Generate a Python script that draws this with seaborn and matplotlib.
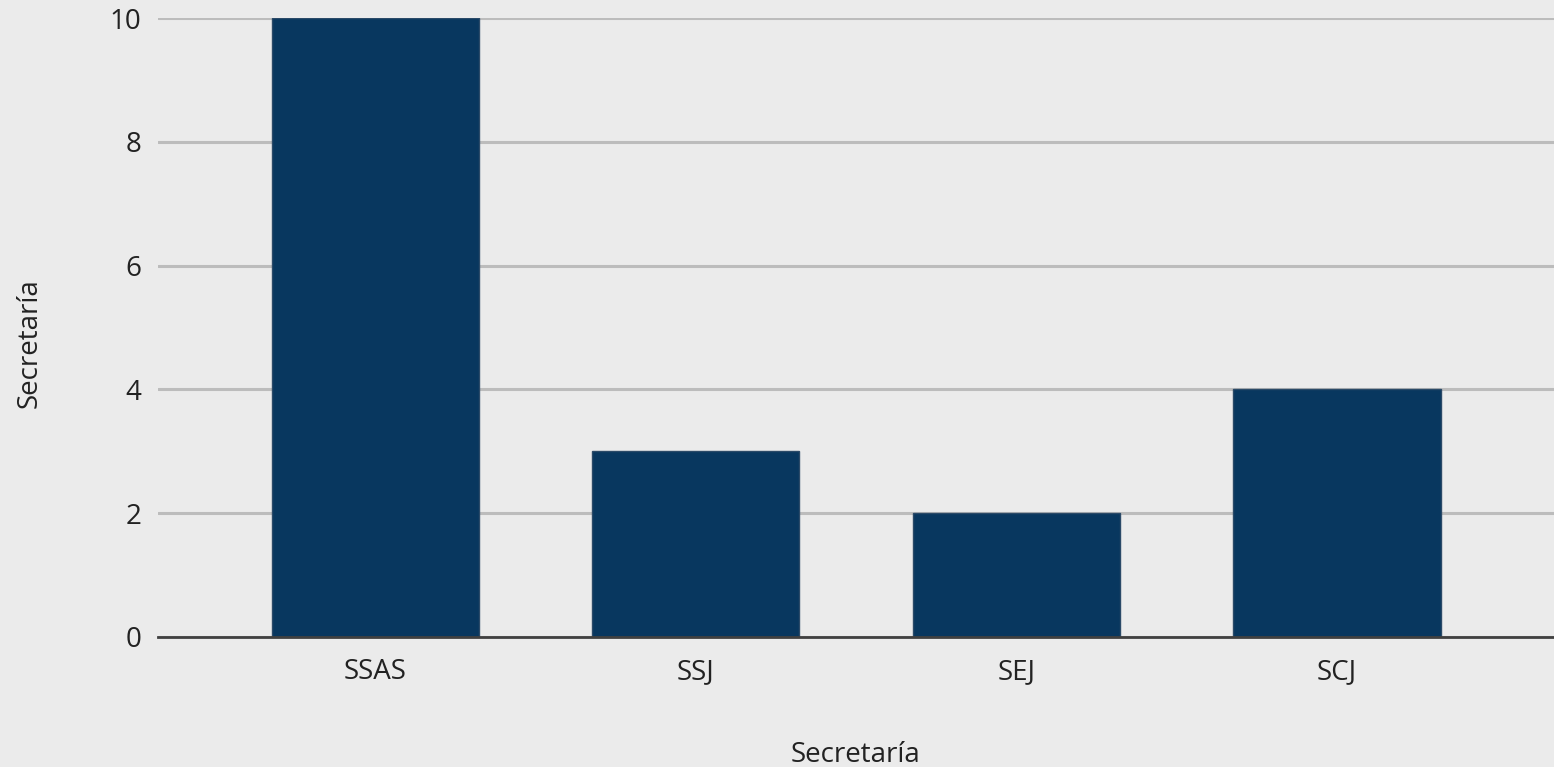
import pandas as pd
import matplotlib.pyplot as plt
import seaborn as sns

# Datos
secretarias = ["SSAS", "SSJ", "SEJ", "SCJ"]
cantidades = [10, 3, 2, 4]

df = pd.DataFrame({"Secretaría": secretarias, "Cantidad": cantidades})

sns.set_theme(style="whitegrid")
plt.rcParams['font.family'] = ['Open Sans', 'DejaVu Sans']

fondo = "#ebebeb"
fig = plt.figure(figsize=(15.54, 7.67), dpi=100, facecolor=fondo)
ax = fig.add_axes([0.1017, 0.1695, 0.8983, 0.807])
ax.set_facecolor(fondo)

sns.barplot(data=df, x="Secretaría", y="Cantidad", color="#08375f",
            width=0.646, edgecolor="#2b4a68", linewidth=1, saturation=1, ax=ax)

ax.set_xlim(-0.677, 3.677)
ax.set_ylim(0, 10)
ax.set_yticks([0, 2, 4, 6, 8, 10])
ax.grid(axis="y", color="#bcbcbc", linewidth=2.2)
ax.grid(axis="x", visible=False)
ax.set_axisbelow(True)

for lado in ["top", "right", "left"]:
    ax.spines[lado].set_visible(False)
ax.spines["bottom"].set_color("#404040")
ax.spines["bottom"].set_linewidth(2)
ax.spines["bottom"].set_zorder(5)

ax.tick_params(axis="both", length=0, labelsize=20, labelcolor="#222222")
ax.tick_params(axis="y", pad=12)
ax.tick_params(axis="x", pad=15)

ax.set_xlabel("Secretaría", fontsize=20, color="#222222")
ax.set_ylabel("Secretaría", fontsize=20, color="#222222")
ax.xaxis.set_label_coords(0.4993, -0.168)
ax.yaxis.set_label_coords(-0.082, 0.475)

fig.savefig("out.png", dpi=100, facecolor=fondo)
